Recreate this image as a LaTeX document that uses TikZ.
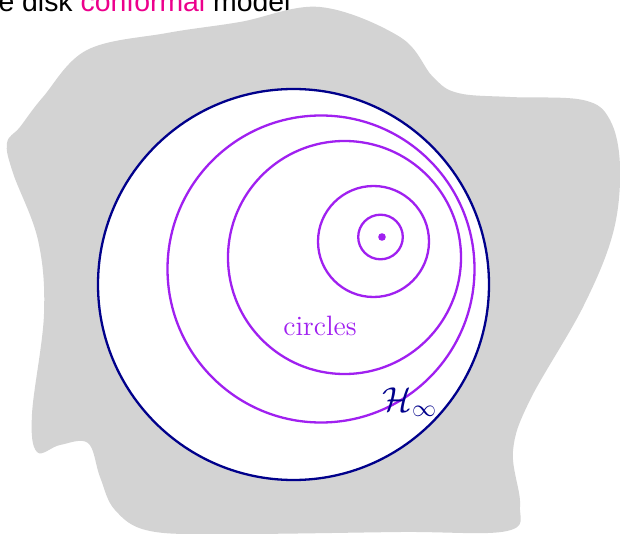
\documentclass[tikz,border=0pt]{standalone}
\usepackage{fontspec}
\usepackage{amsmath,amssymb}
\usepackage{xcolor}
\newfontfamily\helv{Liberation Sans}
\usetikzlibrary{positioning}
\definecolor{diskblue}{RGB}{0,0,139}
\definecolor{circpurple}{RGB}{160,32,240}
\definecolor{confpink}{RGB}{236,0,140}
\definecolor{blobgray}{RGB}{211,211,211}
\begin{document}
\begin{tikzpicture}[x=0.5pt, y=-0.5pt,
  circ/.style={circpurple, line width=1.15pt},
  lbl/.style={inner sep=0pt, font=\fontsize{14}{16}\selectfont}]
\clip (0,0) rectangle (620,534);

% Title (cut off at the top)
\node[lbl, anchor=base west, font=\helv\fontsize{14.2}{16}\selectfont] (title) at (-35,12)
  {The disk {\color{confpink}conformal} model};

% Surrounding blob
\fill[blobgray] plot[smooth cycle, tension=0.6] coordinates {
  (320,7) (400,37) (433,77) (458,93) (510,97) (583,100) (610,120) (620,167)
  (613,233) (583,307) (530,400) (513,451) (520,505) (507,531) (400,532)
  (233,534) (150,531) (115,510) (100,477) (88,443) (60,445) (37,452)
  (32,414) (44,314) (38,240) (13,173) (7,143) (20,127) (43,97) (87,50)
  (167,33) (240,22)};

% Disk
\fill[white] (293.5,284.5) circle (195.5);
\draw[diskblue, line width=1.15pt] (293.5,284.5) circle (195.5);

% Circles
\draw[circ] (321,269) circle (153.5);
\draw[circ] (344.5,257.5) circle (116.5);
\draw[circ] (373.5,241.5) circle (55.5);
\draw[circ] (380.5,237) circle (22.3);
\fill[circpurple] (382,237) circle (3.8);

% Labels
\node[lbl, anchor=base, text=circpurple] (circlab) at (320,335) {circles};
\node[lbl, text=diskblue, font=\fontsize{16.5}{18}\selectfont] (hinf) at (410,402) {$\mathcal{H}_\infty$};
\end{tikzpicture}
\end{document}
